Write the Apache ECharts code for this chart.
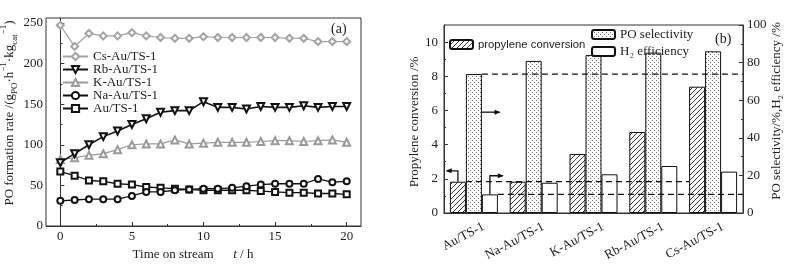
<!DOCTYPE html>
<html><head><meta charset="utf-8">
<script src="https://cdn.jsdelivr.net/npm/echarts@6/dist/echarts.min.js"></script>
<style>html,body{margin:0;padding:0;background:#fff}#c{width:791px;height:268px}</style>
</head><body><div id="c"></div>
<script>
// ---------- data: panel (a) ----------
const hours = [0,1,2,3,4,5,6,7,8,9,10,11,12,13,14,15,16,17,18,19,20];
const csRate = [247,221,237,234,234,238,234,232,231,231,233,232,232,232,232,232,231,231,227,227,227];
const rbRate = [78,89,100,110,117,125,132,140,142,142,153,146,146,144,147,146,146,148,146,147,147];
const kRate  = [82,84,87,89,94,100,101,101,106,101,102,103,103,103,104,105,105,104,105,106,103];
const naRate = [31,32,33,33,33,37,42,42,44,45,46,46,47,49,51,52,52,52,58,54,55];
const auRate = [67,62,56,55,52,51,48,47,46,45,44,44,44,44,43,42,41,41,40,40,39];
const lineNames = ['Cs-Au/TS-1','Rb-Au/TS-1','K-Au/TS-1','Na-Au/TS-1','Au/TS-1'];
const timeTicks = [0,5,10,15,20];
const timeMinor = [2.5,7.5,12.5,17.5];
const rateTicks = [0,50,100,150,200,250];
const rateMinor = [25,75,125,175,225];

// ---------- data: panel (b) ----------
const catalysts = ['Au/TS-1','Na-Au/TS-1','K-Au/TS-1','Rb-Au/TS-1','Cs-Au/TS-1'];
const propConv = [1.83,1.83,3.45,4.74,7.39];
const poSel = [73.9,80.9,84.0,85.3,86.0];
const h2Eff = [9.9,16.1,20.6,25.0,22.0];
const barNames = ['propylene conversion','PO selectivity','H\u2082 efficiency'];
const convTicks = [0,2,4,6,8,10];
const convMinor = [1,3,5,7,9];
const pctTicks = [0,20,40,60,80,100];
const pctMinor = [10,30,50,70,90];

// ---------- styling ----------
const SERIF = '"Liberation Serif","Times New Roman",serif';
const SANS = '"Liberation Sans",Arial,sans-serif';
const AX = '#333';
const TXT = '#222';

function hatch(){
  const s=5,c=document.createElement('canvas');c.width=c.height=s;
  const g=c.getContext('2d');g.fillStyle='#fff';g.fillRect(0,0,s,s);
  g.strokeStyle='#3a3a3a';g.lineWidth=1;g.beginPath();
  g.moveTo(0,s);g.lineTo(s,0);g.moveTo(-1,1);g.lineTo(1,-1);g.moveTo(s-1,s+1);g.lineTo(s+1,s-1);g.stroke();
  return c;
}
function dots(){
  const s=4,c=document.createElement('canvas');c.width=c.height=s;
  const g=c.getContext('2d');g.fillStyle='#fff';g.fillRect(0,0,s,s);
  g.fillStyle='#777';g.fillRect(0,0,1,1);g.fillRect(2,2,1,1);
  return c;
}

function valAxis(o){
  return Object.assign({type:'value',splitLine:{show:false},
    axisLine:{show:true,lineStyle:{color:AX,width:1}},
    axisTick:{show:true,inside:true,length:4,lineStyle:{color:AX}},
    axisLabel:{fontFamily:SERIF,fontSize:13,color:TXT}},o);
}
function minorAxis(o,vals){
  return Object.assign({type:'value',splitLine:{show:false},
    axisLine:{show:false},axisLabel:{show:false},
    axisTick:{show:true,inside:true,length:2,customValues:vals,lineStyle:{color:AX}}},o);
}

const chart = echarts.init(document.getElementById('c'),null,{renderer:'canvas'});

const lineSpec = [
  {data:csRate,color:'#a3a3a3',symbol:'emptyDiamond',size:7,rot:0,w:1.2},
  {data:rbRate,color:'#111',symbol:'emptyTriangle',size:7,rot:180,w:1.6},
  {data:kRate,color:'#9a9a9a',symbol:'emptyTriangle',size:7,rot:0,w:1.2},
  {data:naRate,color:'#111',symbol:'emptyCircle',size:6,rot:0,w:1.3},
  {data:auRate,color:'#111',symbol:'emptyRect',size:6,rot:0,w:1.3}
];

const series = lineSpec.map((s,i)=>({
  type:'line',name:lineNames[i],xAxisIndex:0,yAxisIndex:0,
  data:hours.map((h,k)=>[h,s.data[k]]),
  symbol:s.symbol,symbolSize:s.size,symbolRotate:s.rot,
  lineStyle:{color:s.color,width:s.w},
  itemStyle:{color:s.color,borderColor:s.color,borderWidth:1.2},
  z:10-i
}));

series.push(
  {type:'bar',name:barNames[0],xAxisIndex:2,yAxisIndex:2,data:propConv,barWidth:16,barGap:'0%',
   itemStyle:{color:{image:hatch(),repeat:'repeat'},borderColor:'#111',borderWidth:1}},
  {type:'bar',name:barNames[1],xAxisIndex:2,yAxisIndex:4,data:poSel,barWidth:16,barGap:'0%',
   itemStyle:{color:{image:dots(),repeat:'repeat'},borderColor:'#111',borderWidth:1}},
  {type:'bar',name:barNames[2],xAxisIndex:2,yAxisIndex:4,data:h2Eff,barWidth:16,barGap:'0%',
   itemStyle:{color:'#fff',borderColor:'#111',borderWidth:1}}
);

const option = {
  animation:false,
  backgroundColor:'#fff',
  grid:[
    {left:46,top:18,width:315,height:208,show:true,borderColor:AX,borderWidth:1,backgroundColor:'transparent',outerBoundsMode:'none'},
    {left:444,top:25,width:299,height:188,show:true,borderColor:AX,borderWidth:1,backgroundColor:'transparent',outerBoundsMode:'none'}
  ],
  xAxis:[
    valAxis({gridIndex:0,min:-1,max:21,position:'bottom',
      axisTick:{show:true,inside:true,length:4,customValues:timeTicks,lineStyle:{color:AX}},
      axisLabel:{customValues:timeTicks,fontFamily:SERIF,fontSize:13,color:TXT,margin:4},
      name:'Time on stream      {i|t} / h',nameLocation:'middle',nameGap:20,
      nameTextStyle:{fontFamily:SERIF,fontSize:13,color:TXT,padding:[0,21,0,0],
        rich:{i:{fontFamily:SERIF,fontSize:13,fontStyle:'italic',color:TXT}}}}),
    minorAxis({gridIndex:0,min:-1,max:21,position:'bottom'},timeMinor),
    {type:'category',gridIndex:1,data:catalysts,position:'bottom',
      axisLine:{show:true,lineStyle:{color:AX,width:1}},axisTick:{show:false},splitLine:{show:false},
      axisLabel:{rotate:28,fontFamily:SERIF,fontSize:13,color:TXT,margin:18,padding:[0,-11,0,0],interval:0}}
  ],
  yAxis:[
    valAxis({gridIndex:0,min:0,max:256,
      axisTick:{show:true,inside:true,length:4,customValues:rateTicks,lineStyle:{color:AX}},
      axisLabel:{customValues:rateTicks,fontFamily:SERIF,fontSize:13,color:TXT,margin:3},
      name:'PO formation rate /(g{sub|PO}\u00b7h{sup|\u22121}\u00b7kg{sub|cat}{sup|\u22121})',
      nameLocation:'middle',nameRotate:90,nameGap:11,
      nameTextStyle:{fontFamily:SERIF,fontSize:13,color:TXT,padding:[0,0,0,18],lineHeight:20,
        rich:{sub:{fontFamily:SERIF,fontSize:9,lineHeight:9,verticalAlign:'bottom',color:TXT},
              sup:{fontFamily:SERIF,fontSize:9,lineHeight:9,verticalAlign:'top',color:TXT}}}}),
    minorAxis({gridIndex:0,min:0,max:256,position:'left'},rateMinor),
    valAxis({gridIndex:1,min:0,max:11,position:'left',
      axisTick:{show:true,inside:true,length:4,customValues:convTicks,lineStyle:{color:AX}},
      axisLabel:{customValues:convTicks,fontFamily:SERIF,fontSize:13,color:TXT,margin:6},
      name:'Propylene conversion /%',nameLocation:'middle',nameRotate:90,nameGap:12,
      nameTextStyle:{fontFamily:SERIF,fontSize:13,color:TXT,padding:[0,6,0,0]}}),
    minorAxis({gridIndex:1,min:0,max:11,position:'left'},convMinor),
    valAxis({gridIndex:1,min:0,max:100,position:'right',
      axisTick:{show:true,inside:true,length:4,customValues:pctTicks,lineStyle:{color:AX}},
      axisLabel:{customValues:pctTicks,fontFamily:SERIF,fontSize:13,color:TXT,margin:4},
      name:'PO selectivity/%,H\u2082 efficiency /%',nameLocation:'middle',nameRotate:90,nameGap:19,
      nameTextStyle:{fontFamily:SERIF,fontSize:13,color:TXT,padding:[0,0,0,16]}}),
    minorAxis({gridIndex:1,min:0,max:100,position:'right'},pctMinor)
  ],
  legend:[
    {data:lineNames,orient:'vertical',left:62,top:50,padding:0,itemWidth:25,itemHeight:9,itemGap:0,
     selectedMode:false,
     textStyle:{fontFamily:SERIF,fontSize:13,color:TXT,lineHeight:12.5}},
    {data:[barNames[0]],left:449,top:39,padding:0,itemWidth:23,itemHeight:9,selectedMode:false,
     textStyle:{fontFamily:SANS,fontSize:11.3,color:TXT}},
    {data:[barNames[1],barNames[2]],orient:'vertical',left:591,top:28,padding:0,itemWidth:23,itemHeight:9,itemGap:4,
     selectedMode:false,textStyle:{fontFamily:SERIF,fontSize:13,color:TXT,lineHeight:9}}
  ],
  series:series
};
chart.setOption(option);

// ---------- annotations (reference lines & arrows) derived from data via the axes ----------
const BW = 16;
function pL(ci,v){return chart.convertToPixel({xAxisIndex:2,yAxisIndex:2},[ci,v]);}
function pR(ci,v){return chart.convertToPixel({xAxisIndex:2,yAxisIndex:4},[ci,v]);}
const gridR = 444+299;
const dash = {stroke:'#111',lineWidth:1.2,lineDash:[6,4]};
const solid = {stroke:'#111',lineWidth:1.3,fill:null};
function arrowHead(x,y,dir){
  const L=6,H=2.5;
  return {type:'polygon',shape:{points:[[x,y],[x-dir*L,y-H],[x-dir*L,y+H]]},style:{fill:'#111'},z:20};
}
const a0 = pL(0,propConv[0]);
const s0 = pR(0,poSel[0]);
const h0 = pR(0,h2Eff[0]);
const c4 = pL(4,propConv[0]);
const arrowConvTop = pL(0,2.47)[1];
const arrowSelY = pL(0,5.9)[1];
const arrowH2Top = pL(0,2.18)[1];
const cx0 = a0[0];
const graphics = [
  {type:'line',shape:{x1:cx0+BW/2,y1:s0[1],x2:gridR,y2:s0[1]},style:dash,z:20},
  {type:'line',shape:{x1:cx0-BW/2,y1:a0[1],x2:c4[0]-BW*1.5,y2:a0[1]},style:dash,z:20},
  {type:'line',shape:{x1:cx0+BW*1.5,y1:h0[1],x2:gridR,y2:h0[1]},style:dash,z:20},
  {type:'polyline',shape:{points:[[cx0-BW,a0[1]],[cx0-BW,arrowConvTop],[cx0-BW*1.7,arrowConvTop]]},style:solid,z:20},
  arrowHead(cx0-BW*1.7-1,arrowConvTop,-1),
  {type:'line',shape:{x1:cx0+BW/2,y1:arrowSelY,x2:cx0+BW*1.6,y2:arrowSelY},style:solid,z:20},
  arrowHead(cx0+BW*1.6+1,arrowSelY,1),
  {type:'polyline',shape:{points:[[cx0+BW,h0[1]],[cx0+BW,arrowH2Top],[cx0+BW*1.8,arrowH2Top]]},style:solid,z:20},
  arrowHead(cx0+BW*1.8+1,arrowH2Top,1),
  {type:'text',left:331,top:22,style:{text:'(a)',font:'14px '+SERIF,fill:TXT},z:20},
  {type:'text',left:715,top:32,style:{text:'(b)',font:'14px '+SERIF,fill:TXT},z:20}
];
chart.setOption({graphic:graphics});
</script></body></html>
